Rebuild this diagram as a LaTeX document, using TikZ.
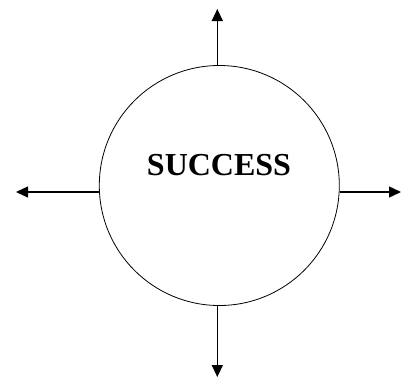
\documentclass[tikz,border=0pt]{standalone}
\usepackage{fontspec}
\setmainfont{Liberation Serif}
\usetikzlibrary{arrows.meta,positioning}

\begin{document}
\begin{tikzpicture}[x=1pt,y=-1pt,
  outarrow/.style={-{Triangle[length=12pt,width=11pt]},line width=1.4pt}]
  \useasboundingbox (0,0) rectangle (403,378);
  \node[draw,circle,line width=0.8pt,minimum size=240pt,inner sep=0pt] (succ) at (219.3,185.5) {};
  \node[font=\bfseries\fontsize{32}{36}\selectfont,inner sep=0pt] (lbl) at (219,165.5) {SUCCESS};
  \coordinate (tipN) at (217.3,9);
  \coordinate (tipS) at (217.3,377);
  \coordinate (tipW) at (16,192);
  \coordinate (tipE) at (401,192);
  \draw[outarrow] (succ.north -| tipN) -- (tipN);
  \draw[outarrow] (succ.south -| tipS) -- (tipS);
  \draw[outarrow] (succ.west |- tipW) -- (tipW);
  \draw[outarrow] (succ.east |- tipE) -- (tipE);
\end{tikzpicture}
\end{document}
